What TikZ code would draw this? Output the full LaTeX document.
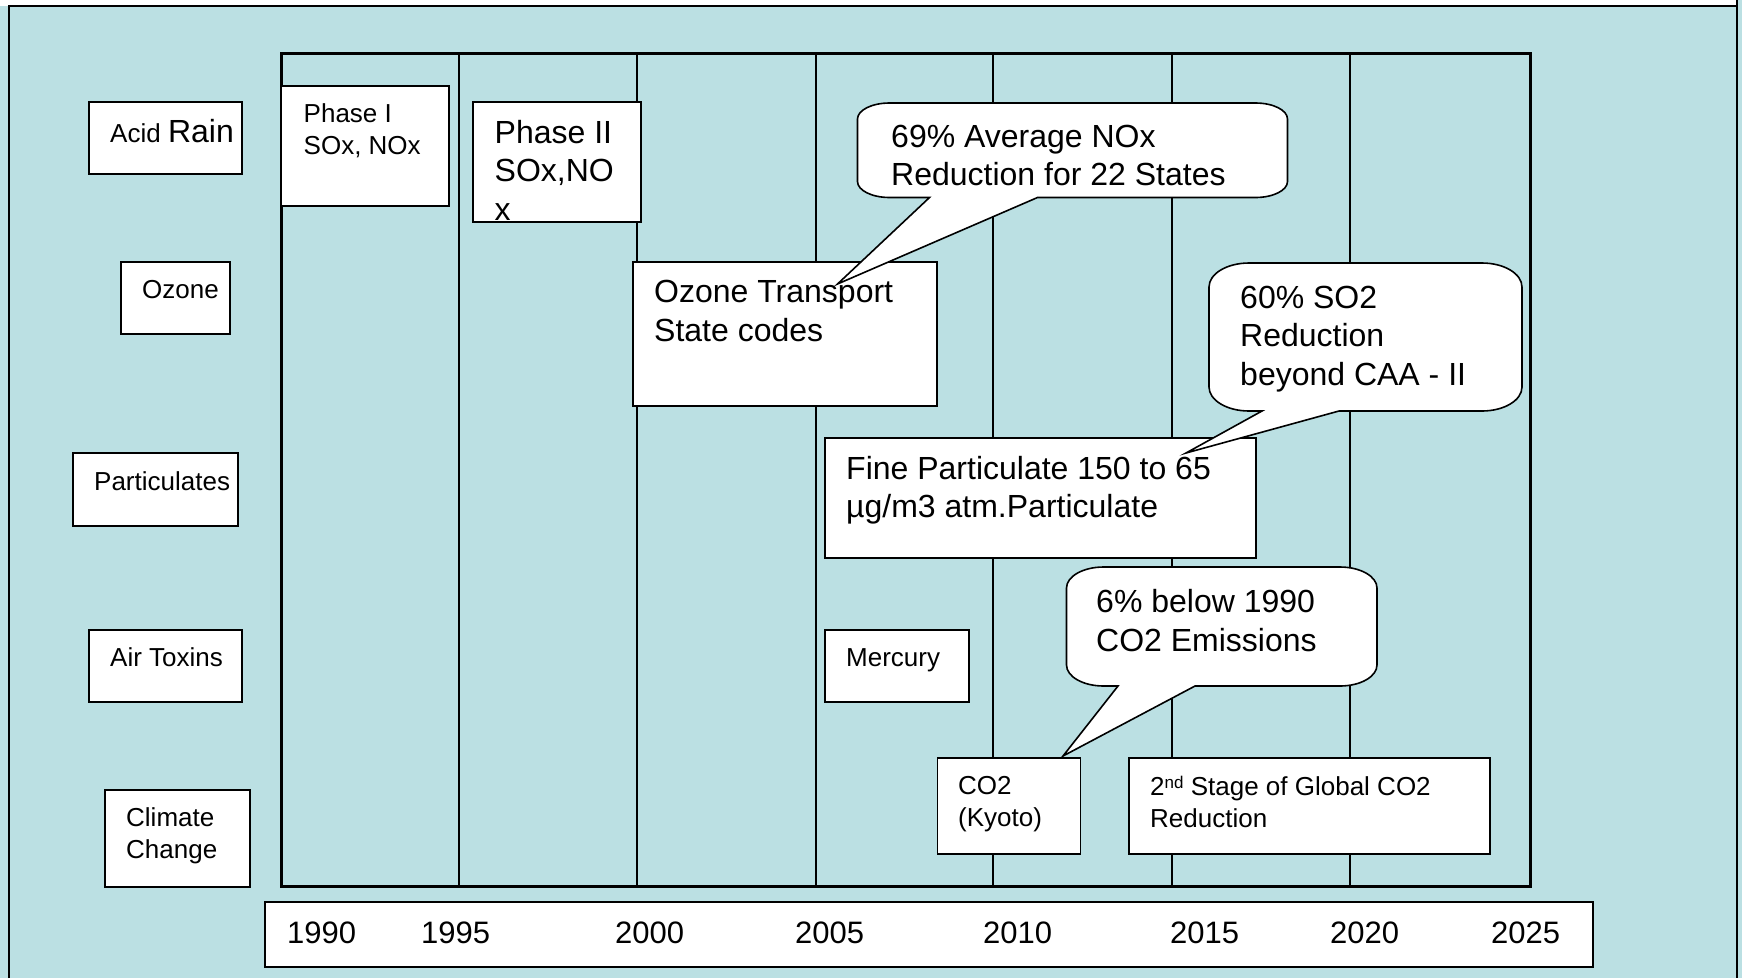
\documentclass[tikz,border=0pt]{standalone}
\usepackage{fontspec}
\setmainfont{Liberation Sans}
\definecolor{slidebg}{RGB}{187,224,227}
\begin{document}
\begin{tikzpicture}[x=1pt, y=-1pt,
    catbox/.style={draw, fill=white, line width=1.6pt, anchor=north west, inner sep=0pt, outer sep=0pt},
    smalltext/.style={anchor=north west, inner sep=0pt, align=left, font=\fontsize{26}{32}\selectfont},
    bigtext/.style={anchor=north west, inner sep=0pt, align=left, font=\fontsize{32}{38.5}\selectfont},
    singletext/.style={anchor=base west, inner sep=0pt, font=\fontsize{26}{32}\selectfont},
    yeartext/.style={anchor=base west, inner sep=0pt, font=\fontsize{31}{37}\selectfont},
    gridline/.style={line width=2pt},
    bubble/.style={draw, fill=white, line width=1.6pt, line join=miter}]
% \clip (0,0) rectangle (1742,978);
\useasboundingbox (0,0) rectangle (1742,978);

% Slide background
\fill[slidebg] (0,0) rectangle (1742,978);
\fill[white] (0,0) rectangle (1737,6);
\draw[line width=2pt] (9,978) -- (9,6) -- (1737,6);
\draw[line width=2pt] (1737,0) -- (1737,978);

% Drawing year lines
\draw[gridline] (459,53) -- (459,886);
\draw[gridline] (637,53) -- (637,886);
\draw[gridline] (816,53) -- (816,886);
\draw[gridline] (993,53) -- (993,886);
\draw[gridline] (1172,53) -- (1172,886);
\draw[gridline] (1350,53) -- (1350,886);

% Drawing time frame
\draw[line width=3pt] (281,53) rectangle (1530,886);

% Marking category Acid Rain
\node[catbox, minimum width=153pt, minimum height=72pt] (acidbox) at (89,102) {};
\node[singletext] (acidtxt) at (110,142.5) {Acid {\fontsize{32}{38}\selectfont Rain}};

% Marking category Ozone
\node[catbox, minimum width=109pt, minimum height=72pt] (ozonebox) at (121,262) {};
\node[singletext] (ozonetxt) at (142,298.5) {Ozone};

% Marking category Particulates
\node[catbox, minimum width=165pt, minimum height=73pt] (partbox) at (73,453) {};
\node[singletext] (parttxt) at (94,490.5) {Particulates};

% Marking category Air Toxins
\node[catbox, minimum width=153pt, minimum height=72pt] (toxbox) at (89,630) {};
\node[singletext] (toxtxt) at (110,666.5) {Air Toxins};

% Marking category Climate Change
\node[catbox, minimum width=145pt, minimum height=97pt] (climbox) at (105,790) {};
\node[smalltext] (climtxt) at (126,807.5) {Climate\\Change};

% Marking event Phase I
\node[catbox, minimum width=168pt, minimum height=120pt] (phaseone) at (281,86) {};
\node[smalltext] (phaseonetxt) at (303.5,103) {Phase I\\SOx, NOx};

% Marking event Phase II
\node[catbox, minimum width=168pt, minimum height=120pt] (phasetwo) at (473,102) {};
\node[bigtext] (phasetwotxt) at (494.5,120) {Phase II\\SOx,NO\\x};

% Marking event Ozone Transport
\node[catbox, minimum width=304pt, minimum height=144pt] (otc) at (633,262) {};
\node[bigtext] (otctxt) at (654,280) {Ozone Transport\\State codes};

% Marking event Fine Particulate
\node[catbox, minimum width=431pt, minimum height=120pt] (finepm) at (825,438) {};
\node[bigtext] (finepmtxt) at (846,456) {Fine Particulate 150 to 65\\µg/m3 atm.Particulate};

% Marking event Mercury
\node[catbox, minimum width=144pt, minimum height=72pt] (mercury) at (825,630) {};
\node[singletext] (mercurytxt) at (846,666.5) {Mercury};

% Marking event CO2 (Kyoto)
\node[catbox, minimum width=143pt, minimum height=96pt] (kyoto) at (937.5,758) {};
\node[smalltext] (kyototxt) at (958,776) {CO2\\(Kyoto)};

% Marking event 2nd Stage
\node[catbox, minimum width=361pt, minimum height=96pt] (secstage) at (1129,758) {};
\node[smalltext] (secstagetxt) at (1150,775.5) {2\raisebox{7pt}{\fontsize{17}{17}\selectfont nd} Stage of Global CO2\\Reduction};

% Drawing callout 69% NOx
\coordinate (noxtip) at (837.5,284);
\draw[bubble] (929.5,197.5) -- (889.5,197.5)
  arc[start angle=90, end angle=180, x radius=32, y radius=16] -- (857.5,119)
  arc[start angle=180, end angle=270, x radius=32, y radius=16] -- (1255.5,103)
  arc[start angle=270, end angle=360, x radius=32, y radius=16] -- (1287.5,181.5)
  arc[start angle=0, end angle=90, x radius=32, y radius=16] -- (1037.5,197.5)
  -- (noxtip) -- cycle;
\node[bigtext] (noxtxt) at (891,124.5) {69\% Average NOx\\Reduction for 22 States};

% Drawing callout 60% SO2
\coordinate (sotip) at (1186,453);
\draw[bubble] (1262,411) -- (1249,411)
  arc[start angle=90, end angle=180, x radius=40, y radius=24] -- (1209,287)
  arc[start angle=180, end angle=270, x radius=40, y radius=24] -- (1482,263)
  arc[start angle=270, end angle=360, x radius=40, y radius=24] -- (1522,387)
  arc[start angle=0, end angle=90, x radius=40, y radius=24] -- (1339,411)
  -- (sotip) -- cycle;
\node[bigtext] (sotxt) at (1240,285.5) {60\% SO2\\Reduction\\beyond CAA - II};

% Drawing callout 6% CO2
\coordinate (cotip) at (1063,756);
\draw[bubble] (1118,686) -- (1103.5,686)
  arc[start angle=90, end angle=180, x radius=37, y radius=21] -- (1066.5,588)
  arc[start angle=180, end angle=270, x radius=37, y radius=21] -- (1340,567)
  arc[start angle=270, end angle=360, x radius=37, y radius=21] -- (1377,665)
  arc[start angle=0, end angle=90, x radius=37, y radius=21] -- (1195,686)
  -- (cotip) -- cycle;
\node[bigtext] (cotxt) at (1096,589.5) {6\% below 1990\\CO2 Emissions};

% Marking year axis
\node[catbox, minimum width=1328pt, minimum height=65pt] (yearbox) at (265,902) {};
\node[yeartext] (y1990) at (287,943) {1990};
\node[yeartext] (y1995) at (421,943) {1995};
\node[yeartext] (y2000) at (615,943) {2000};
\node[yeartext] (y2005) at (795,943) {2005};
\node[yeartext] (y2010) at (983,943) {2010};
\node[yeartext] (y2015) at (1170,943) {2015};
\node[yeartext] (y2020) at (1330,943) {2020};
\node[yeartext] (y2025) at (1491,943) {2025};
\end{tikzpicture}
\end{document}
